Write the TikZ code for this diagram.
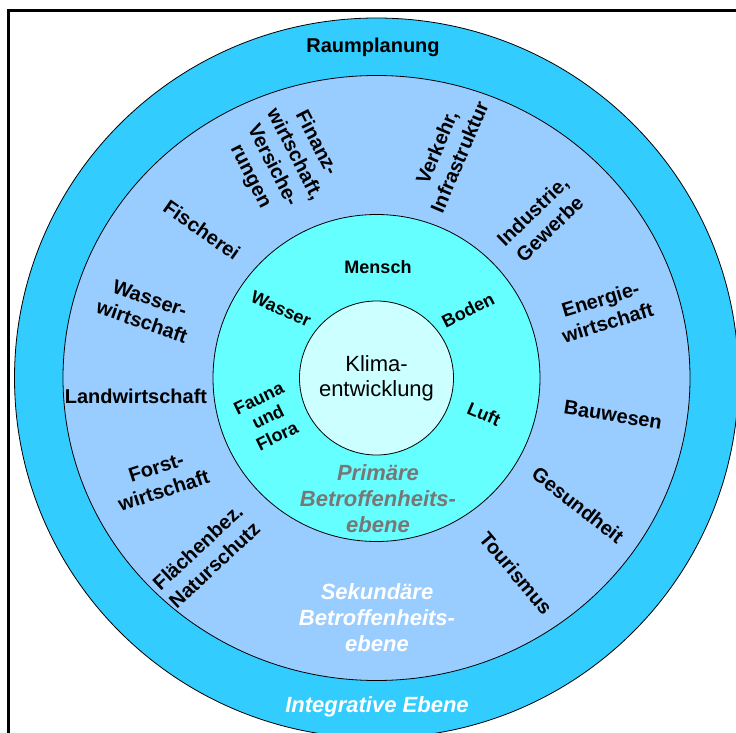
\documentclass[tikz,border=0pt]{standalone}
\usepackage{fontspec}
\setmainfont{Liberation Sans}
\definecolor{ringaussen}{HTML}{33CCFF}
\definecolor{ringsek}{HTML}{99CCFF}
\definecolor{ringprim}{HTML}{66FFFF}
\definecolor{kern}{HTML}{CCFFFF}
\definecolor{primgrau}{HTML}{777777}
\begin{document}
\begin{tikzpicture}[x=1pt,y=-1pt,
	ring/.style={draw=black,line width=0.8pt},
	sektor/.style={font=\bfseries\fontsize{20}{24.5}\selectfont,align=center,inner sep=0pt},
	faktor/.style={font=\bfseries\fontsize{18}{21}\selectfont,align=center,inner sep=0pt},
	ebene/.style={font=\bfseries\itshape\fontsize{22}{26}\selectfont,align=center,inner sep=0pt}]
	\useasboundingbox (0,0) rectangle (736,733);
	\coordinate (c) at (376.5,378);
	% Rings
	\draw [ring,fill=ringaussen] (c) ellipse [x radius=362, y radius=360];
	\draw [ring,fill=ringsek] (c) ellipse [x radius=313.5, y radius=302.5];
	\draw [ring,fill=ringprim] (c) circle [radius=163.5];
	\draw [ring,fill=kern] (c) circle [radius=77];
	\draw [line width=3pt] (8.5,10.5) rectangle (760,760);
	% Place nodes
	\node [sektor] (raum) at (373,47) {Raumplanung};
	\node [ebene,color=white] (integ) at (377,707) {Integrative Ebene};
	\node [sektor,rotate=-63] (finanz) at (283,160) {Finanz-\\wirtschaft,\\Versiche-\\rungen};
	\node [sektor,rotate=67] (verkehr) at (448,152) {Verkehr,\\Infrastruktur};
	\node [sektor,rotate=44] (industrie) at (541,220) {Industrie,\\Gewerbe};
	\node [sektor,rotate=-35] (fischerei) at (202,230) {Fischerei};
	\node [sektor,rotate=-19] (wasserw) at (146,310) {Wasser-\\wirtschaft};
	\node [sektor] (landw) at (136,396) {Landwirtschaft};
	\node [sektor,rotate=18] (forst) at (160,479) {Forst-\\wirtschaft};
	\node [sektor,rotate=43] (flaeche) at (206,556) {Fl\"achenbez.\\Naturschutz};
	\node [sektor,rotate=17] (energie) at (604,311) {Energie-\\wirtschaft};
	\node [sektor,rotate=-9] (bau) at (613,415) {Bauwesen};
	\node [sektor,rotate=-38] (gesund) at (578,505) {Gesundheit};
	\node [sektor,rotate=-50] (tour) at (516,573) {Tourismus};
	\node [ebene,color=white] (sek) at (377,618) {Sekund\"are\\Betroffenheits-\\ebene};

	\node [faktor] (mensch) at (378,267) {Mensch};
	\node [faktor,rotate=-24] (wasser) at (281,309) {Wasser};
	\node [faktor,rotate=27] (boden) at (468,310) {Boden};
	\node [faktor,rotate=26] (fauna) at (268,417) {Fauna\\und\\Flora};
	\node [faktor,rotate=-23] (luft) at (484,414) {Luft};
	\node [ebene,color=primgrau] (prim) at (378,499) {Prim\"are\\Betroffenheits-\\ebene};
	\node [font=\fontsize{22}{25}\selectfont,align=center,inner sep=0pt] (klima) at (c) {Klima-\\entwicklung};
\end{tikzpicture}
\end{document}
